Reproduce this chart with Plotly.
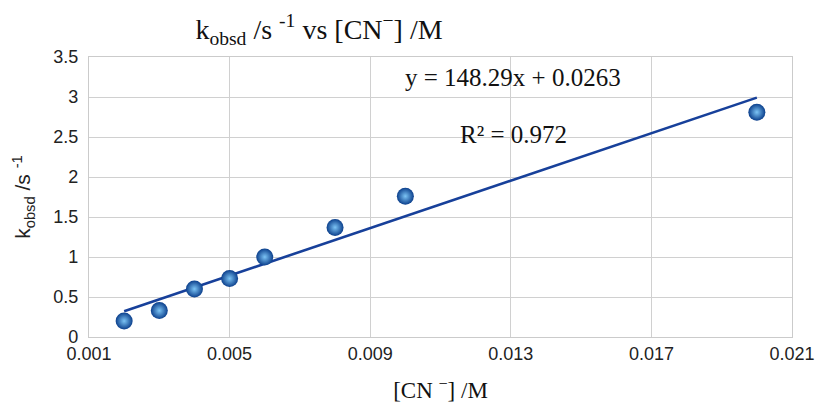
import numpy as np
import plotly.graph_objects as go

# Data
cn_conc = [0.002, 0.003, 0.004, 0.005, 0.006, 0.008, 0.010, 0.020]
k_obsd = [0.20, 0.33, 0.60, 0.73, 1.00, 1.37, 1.76, 2.81]

# Trendline parameters as printed on the chart
slope = 148.29
intercept = 0.0263
r_squared = 0.972

x_ticks = [0.001, 0.005, 0.009, 0.013, 0.017, 0.021]
x_tick_labels = ["0.001", "0.005", "0.009", "0.013", "0.017", "0.021"]
y_ticks = [0, 0.5, 1, 1.5, 2, 2.5, 3, 3.5]
y_tick_labels = ["0", "0.5", "1", "1.5", "2", "2.5", "3", "3.5"]

trend_x = [min(cn_conc), max(cn_conc)]
trend_y = [slope * v + intercept for v in trend_x]

fig = go.Figure()
fig.add_trace(go.Scatter(
    x=trend_x, y=trend_y, mode="lines",
    line=dict(color="#17409a", width=2.6),
    hoverinfo="skip", showlegend=False,
))
fig.add_trace(go.Scatter(
    x=cn_conc, y=k_obsd, mode="markers",
    marker=dict(size=17, color="#0b3f8c",
                gradient=dict(type="radial", color="#7cc4f5"),
                line=dict(width=0)),
    showlegend=False,
))

serif = "Liberation Serif"
sans = "Liberation Sans"

fig.update_layout(
    width=819, height=408,
    margin=dict(l=89, r=27, t=57, b=71, autoexpand=False),
    paper_bgcolor="white", plot_bgcolor="white",
    title=dict(
        text="k<sub>obsd</sub> /s <sup>-1</sup> vs [CN<sup>−</sup>] /M",
        font=dict(family=serif, size=28, color="#111"),
        xref="container", yref="container",
        x=319 / 819, xanchor="center",
        y=1 - 29 / 408, yanchor="middle",
    ),
    xaxis=dict(
        range=[0.001, 0.021], automargin=False,
        tickvals=x_ticks, ticktext=x_tick_labels,
        showgrid=True, gridcolor="#d0d0d0", gridwidth=1.2,
        zeroline=False,
        showline=True, linecolor="#cbcbcb", linewidth=1.2, mirror=True,
        ticks="", tickfont=dict(family=sans, size=18, color="#222"),
        title=dict(text="[CN <sup>−</sup>] /M",
                   font=dict(family=serif, size=23, color="#111"),
                   standoff=19),
    ),
    yaxis=dict(
        range=[0, 3.5], automargin=False,
        tickvals=y_ticks, ticktext=y_tick_labels,
        showgrid=True, gridcolor="#d0d0d0", gridwidth=1.2,
        zeroline=False,
        showline=True, linecolor="#cbcbcb", linewidth=1.2, mirror=True,
        ticks="", ticklabelstandoff=6,
        tickfont=dict(family=sans, size=18, color="#222"),
        title=dict(text="k<sub>obsd</sub> /s <sup>-1</sup>",
                   font=dict(family=sans, size=21, color="#222"),
                   standoff=16),
    ),
    annotations=[
        dict(text=f"y = {slope}x + {intercept}", xref="paper", yref="paper",
             x=(513 - 89) / (792 - 89), y=(337 - 77) / (337 - 57),
             xanchor="center", yanchor="middle", showarrow=False,
             font=dict(family=serif, size=25, color="#111")),
        dict(text=f"R² = {r_squared}", xref="paper", yref="paper",
             x=(513 - 89) / (792 - 89), y=(337 - 134) / (337 - 57),
             xanchor="center", yanchor="middle", showarrow=False,
             font=dict(family=serif, size=25, color="#111")),
    ],
)

fig.write_html(
    "out.html",
    config={"displayModeBar": False},
    post_script="document.body.style.margin='0';document.body.style.overflow='hidden';",
)
